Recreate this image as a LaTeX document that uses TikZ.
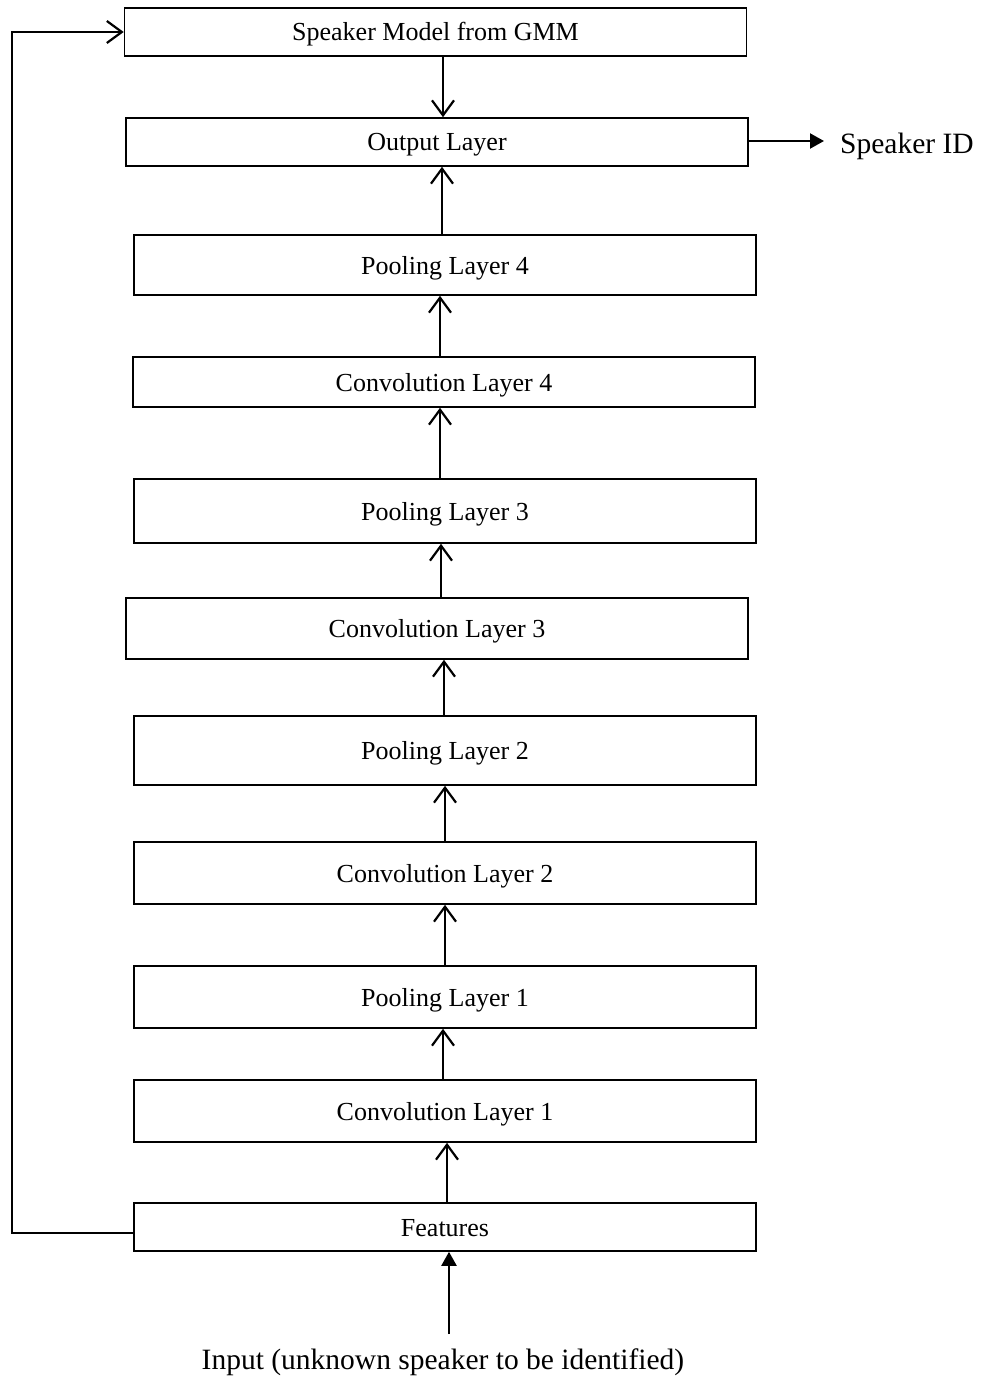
\documentclass[tikz,border=0pt]{standalone}
\usepackage{fontspec}
\setmainfont{Liberation Serif}
\usetikzlibrary{arrows.meta}
\tikzset{
  layerbox/.style={draw, line width=1.6pt, minimum width=622pt, inner sep=0pt, text height=18pt, text depth=0pt, font=\fontsize{26}{30}\selectfont},
  uparr/.style={line width=2.2pt, -{Straight Barb[length=15pt,width=22pt,line width=2.2pt]}},
  fillarr/.style={line width=2.2pt, -{Triangle[length=14pt,width=15pt]}},
  fbline/.style={line width=1.3pt, -{Straight Barb[length=15pt,width=22pt,line width=2.2pt]}},
  biglabel/.style={inner sep=0pt, font=\fontsize{29.5}{33}\selectfont}
}
\begin{document}
\begin{tikzpicture}[x=1pt,y=-1pt]
\useasboundingbox (0,0) rectangle (981,1380);
\node[layerbox, minimum height=48pt] (gmm) at (435.5,32) {Speaker Model from GMM};
\node[layerbox, minimum height=48pt] (out) at (437,142) {Output Layer};
\node[layerbox, minimum height=60pt] (p4) at (445,265) {Pooling Layer 4};
\node[layerbox, minimum height=50pt] (c4) at (444,382) {Convolution Layer 4};
\node[layerbox, minimum height=64pt] (p3) at (445,511) {Pooling Layer 3};
\node[layerbox, minimum height=61pt] (c3) at (437,628.5) {Convolution Layer 3};
\node[layerbox, minimum height=69pt] (p2) at (445,750.5) {Pooling Layer 2};
\node[layerbox, minimum height=62pt] (c2) at (445,873) {Convolution Layer 2};
\node[layerbox, minimum height=62pt] (p1) at (445,997) {Pooling Layer 1};
\node[layerbox, minimum height=62pt] (c1) at (445,1111) {Convolution Layer 1};
\node[layerbox, minimum height=48pt] (feat) at (445,1227) {Features};
\node[biglabel, anchor=west] (sid) at (840,146) {Speaker ID};
\node[biglabel] (inp) at (443,1362) {Input (unknown speaker to be identified)};
\coordinate (inbot) at (449,1334);
\coordinate (fbl) at (12,1233);
% arrows
\draw[uparr] ([xshift=7.5pt]gmm.south) -- ([xshift=7.5pt]gmm.south |- out.north);
\draw[uparr] ([xshift=-3pt]p4.north) -- ([xshift=-3pt]p4.north |- out.south);
\draw[uparr] ([xshift=-4pt]c4.north) -- ([xshift=-4pt]c4.north |- p4.south);
\draw[uparr] ([xshift=-5pt]p3.north) -- ([xshift=-5pt]p3.north |- c4.south);
\draw[uparr] ([xshift=4pt]c3.north) -- ([xshift=4pt]c3.north |- p3.south);
\draw[uparr] ([xshift=-1pt]p2.north) -- ([xshift=-1pt]p2.north |- c3.south);
\draw[uparr] (c2.north) -- (c2.north |- p2.south);
\draw[uparr] (p1.north) -- (p1.north |- c2.south);
\draw[uparr] ([xshift=-2pt]c1.north) -- ([xshift=-2pt]c1.north |- p1.south);
\draw[uparr] ([xshift=2pt]feat.north) -- ([xshift=2pt]feat.north |- c1.south);
\draw[fillarr] (inbot) -- (inbot |- feat.south);
\draw[fillarr, shorten >=16pt] ([yshift=1pt]out.east) -- ([yshift=1pt]out.east -| sid.west);
\draw[fbline] (feat.west |- fbl) -- (fbl) |- (gmm.west);
\end{tikzpicture}
\end{document}
